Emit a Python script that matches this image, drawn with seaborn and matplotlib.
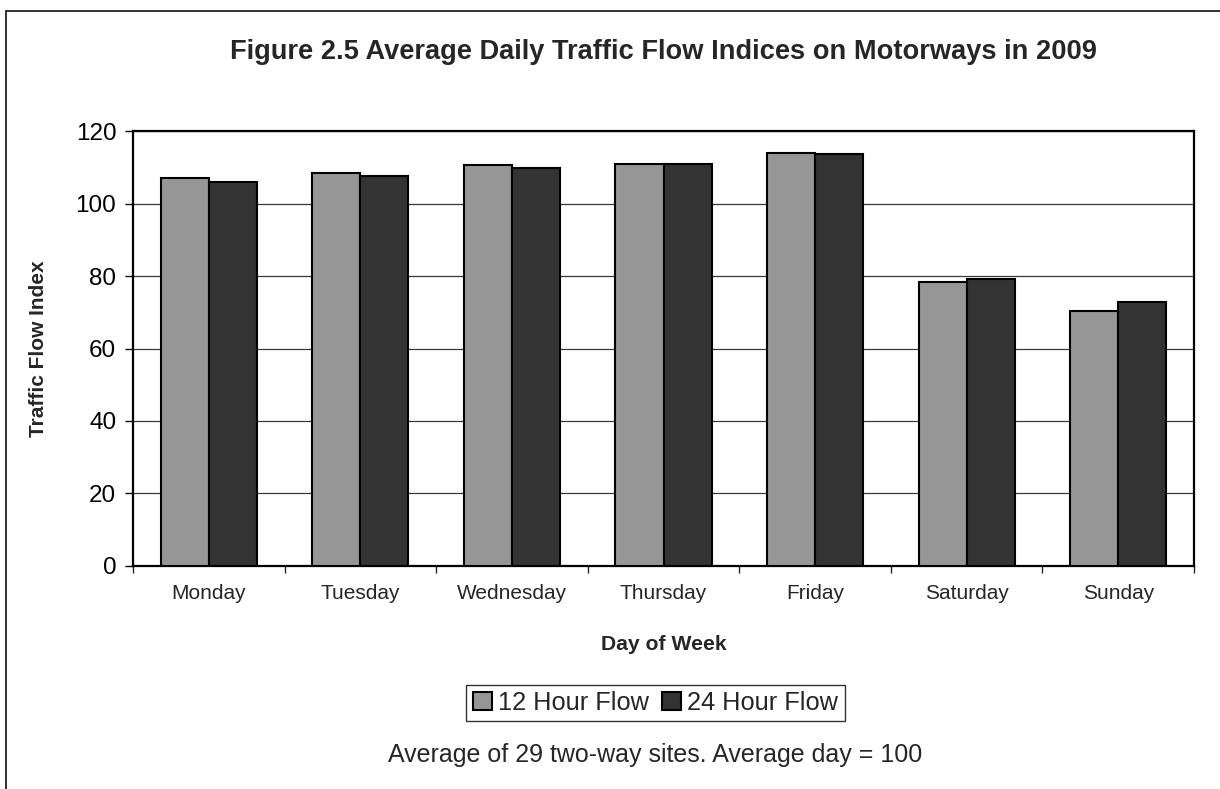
import matplotlib
matplotlib.use("Agg")
import matplotlib.pyplot as plt
from matplotlib.patches import Rectangle
from matplotlib.ticker import FixedLocator
import pandas as pd
import seaborn as sns

# data
days = ["Monday", "Tuesday", "Wednesday", "Thursday", "Friday", "Saturday", "Sunday"]
flow_12h = [107.2, 108.6, 110.6, 111.0, 113.9, 78.4, 70.4]
flow_24h = [106.0, 107.6, 110.0, 111.0, 113.7, 79.3, 72.8]
series = ["12 Hour Flow", "24 Hour Flow"]
colors = ["#969696", "#333333"]

df = pd.DataFrame({
    "day": days * 2,
    "flow": series[0:1] * len(days) + series[1:2] * len(days),
    "value": flow_12h + flow_24h,
})

sns.set_style("white")
plt.rcParams["font.family"] = ["Liberation Sans", "DejaVu Sans"]

W, H = 1220, 789
fig = plt.figure(figsize=(W / 100, H / 100), dpi=100)
ax = fig.add_axes([133 / W, 1 - 565.7 / H, (1194 - 133) / W, (565.7 - 131.3) / H])

sns.barplot(data=df, x="day", y="value", hue="flow", order=days, hue_order=series,
            palette=dict(zip(series, colors)), width=0.634, gap=0,
            edgecolor="black", linewidth=1.5, saturation=1, ax=ax, zorder=3)

ax.set_ylim(0, 120)
ax.set_xlim(-0.5, len(days) - 0.5)
ax.set_yticks(range(0, 121, 20))
ax.yaxis.grid(True, color="#3a3a3a", linewidth=0.9)
ax.set_axisbelow(True)
for s in ax.spines.values():
    s.set_color("black")
    s.set_linewidth(1.6)

ax.tick_params(axis="y", which="major", left=True, direction="out", length=6, width=1,
               labelsize=17.5, pad=6, colors="black")
ax.tick_params(axis="x", which="major", bottom=False, length=0, labelsize=15, pad=13)
ax.xaxis.set_minor_locator(FixedLocator([i - 0.5 for i in range(len(days) + 1)]))
ax.tick_params(axis="x", which="minor", bottom=True, direction="out", length=5, width=1)

ax.set_xlabel("Day of Week", fontsize=15.2, fontweight="bold", labelpad=23)
ax.set_ylabel("Traffic Flow Index", fontsize=15, fontweight="bold", labelpad=20)

ax.legend_.remove()
handles = [Rectangle((0, 0), 1, 1, facecolor=c, edgecolor="black", linewidth=1.5) for c in colors]
leg = fig.legend(handles, series, loc="center", bbox_to_anchor=(655.5 / W, 1 - 703 / H),
                 ncol=2, fontsize=18.3, frameon=True, fancybox=False, edgecolor="black",
                 handlelength=0.75, handleheight=0.75, handletextpad=0.25, columnspacing=0.5,
                 borderpad=0.25, borderaxespad=0)
leg.get_frame().set_linewidth(1)

fig.text(663 / W, 1 - 52 / H, "Figure 2.5 Average Daily Traffic Flow Indices on Motorways in 2009",
         ha="center", va="center", fontsize=19.6, fontweight="bold")
fig.text(655 / W, 1 - 755 / H, "Average of 29 two-way sites. Average day = 100",
         ha="center", va="center", fontsize=18)

# chart-area border (right and bottom edges lie outside the image)
fig.patches.append(Rectangle((6 / W, -0.1), 1.2, 1 - 11 / H + 0.1, transform=fig.transFigure,
                             fill=False, edgecolor="#222222", linewidth=1.3))

fig.savefig("out.png", dpi=100)
